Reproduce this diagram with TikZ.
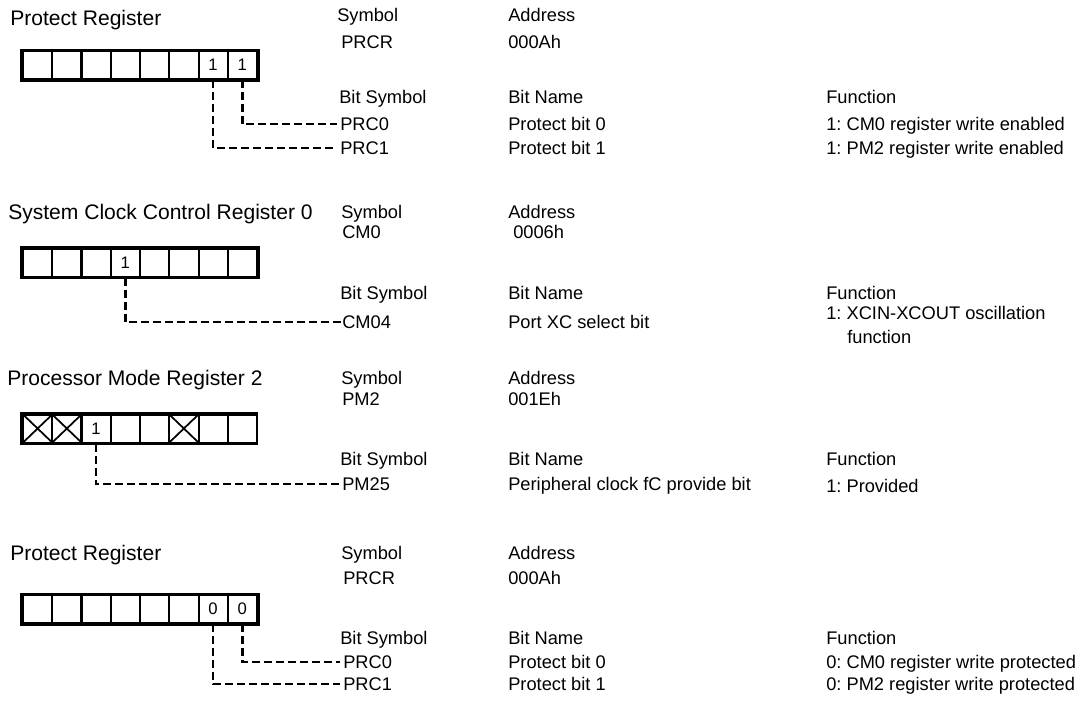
\documentclass[tikz,border=0pt]{standalone}
\usepackage{fontspec}
\setmainfont{Liberation Sans}
\frenchspacing

\begin{document}
\begin{tikzpicture}[x=0.75pt, y=-0.75pt,
  txt/.style={anchor=base west, inner sep=0pt, font=\fontsize{13.7}{16}\selectfont},
  title/.style={txt, font=\fontsize{15.8}{19}\selectfont},
  bit/.style={draw, line width=1.5pt, minimum width=21.94pt, minimum height=21pt, inner sep=0pt, font=\fontsize{12.5}{14}\selectfont},
  frame/.style={line width=2.25pt},
  cross/.style={line width=1.3pt},
  lead/.style={line width=1.7pt, dash pattern=on 6pt off 3pt, shorten >=2.5pt}]
\useasboundingbox (0,0) rectangle (1081,704);

\node[title] (t1) at (10,25.5) {Protect Register};
\node[txt] (s1) at (337,21.5) {Symbol};
\node[txt] (s1v) at (341,48.5) {PRCR};
\node[txt] (a1) at (508,21.5) {Address};
\node[txt] (a1v) at (508,48.5) {000Ah};
\foreach \v [count=\i] in {{},{},{},{},{},{},1,1}
  \node[bit] (r1c\i) at ({23+29.25*(\i-0.5)},65) {\v};
\draw[frame] (r1c1.north west) rectangle (r1c8.south east);
\node[txt] (bs1) at (339,103.5) {Bit Symbol};
\node[txt] (bn1) at (508,103.5) {Bit Name};
\node[txt] (fn1) at (826,103.5) {Function};
\node[txt] (b1a) at (340,130.5) {PRC0};
\node[txt] (n1a) at (508,130.5) {Protect bit 0};
\node[txt] (f1a) at (826,130.5) {1: CM0 register write enabled};
\node[txt] (b1b) at (340,154.5) {PRC1};
\node[txt] (n1b) at (508,154.5) {Protect bit 1};
\node[txt] (f1b) at (826,154.5) {1: PM2 register write enabled};
\draw[lead] (r1c8.south) |- (b1a.west);
\draw[lead] (r1c7.south) |- (b1b.west);

\node[title] (t2) at (8,219.5) {System Clock Control Register 0};
\node[txt] (s2) at (341,218.5) {Symbol};
\node[txt] (s2v) at (342,238.5) {CM0};
\node[txt] (a2) at (508,218.5) {Address};
\node[txt] (a2v) at (513,238.5) {0006h};
\foreach \v [count=\i] in {{},{},{},1,{},{},{},{}}
  \node[bit] (r2c\i) at ({23+29.25*(\i-0.5)},262.5) {\v};
\draw[frame] (r2c1.north west) rectangle (r2c8.south east);
\node[txt] (bs2) at (340,299.5) {Bit Symbol};
\node[txt] (bn2) at (508,299.5) {Bit Name};
\node[txt] (fn2) at (826,299.5) {Function};
\node[txt] (b2a) at (342,328.5) {CM04};
\node[txt] (n2a) at (508,328.5) {Port XC select bit};
\node[txt] (f2a) at (826,319.5) {1: XCIN-XCOUT oscillation};
\node[txt] (f2b) at (847,343.5) {function};
\draw[lead, shorten >=0pt] (r2c4.south) |- (b2a.west);

\node[title] (t3) at (7,385.5) {Processor Mode Register 2};
\node[txt] (s3) at (341,384.5) {Symbol};
\node[txt] (s3v) at (342,405.5) {PM2};
\node[txt] (a3) at (508,384.5) {Address};
\node[txt] (a3v) at (508,405.5) {001Eh};
\foreach \v [count=\i] in {{},{},1,{},{},{},{},{}}
  \node[bit] (r3c\i) at ({23+29.25*(\i-0.5)},428.5) {\v};
\draw[frame] (r3c8.north east) -- (r3c1.north west) -- (r3c1.south west) -- (r3c8.south east);
\foreach \i in {1,2,6}
  \draw[cross] (r3c\i.north west) -- (r3c\i.south east) (r3c\i.south west) -- (r3c\i.north east);
\node[txt] (bs3) at (340,465.5) {Bit Symbol};
\node[txt] (bn3) at (508,465.5) {Bit Name};
\node[txt] (fn3) at (826,465.5) {Function};
\node[txt] (b3a) at (342,490.5) {PM25};
\node[txt] (n3a) at (508,490.5) {Peripheral clock fC provide bit};
\node[txt] (f3a) at (826,492.5) {1: Provided};
\draw[lead] (r3c3.south) |- (b3a.west);

\node[title] (t4) at (10,560.5) {Protect Register};
\node[txt] (s4) at (341,559.5) {Symbol};
\node[txt] (s4v) at (343,584.5) {PRCR};
\node[txt] (a4) at (508,559.5) {Address};
\node[txt] (a4v) at (508,584.5) {000Ah};
\foreach \v [count=\i] in {{},{},{},{},{},{},0,0}
  \node[bit] (r4c\i) at ({23+29.25*(\i-0.5)},609) {\v};
\draw[frame] (r4c1.north west) rectangle (r4c8.south east);
\node[txt] (bs4) at (340,644.5) {Bit Symbol};
\node[txt] (bn4) at (508,644.5) {Bit Name};
\node[txt] (fn4) at (826,644.5) {Function};
\node[txt] (b4a) at (343,668.5) {PRC0};
\node[txt] (n4a) at (508,668.5) {Protect bit 0};
\node[txt] (f4a) at (826,668.5) {0: CM0 register write protected};
\node[txt] (b4b) at (343,690.5) {PRC1};
\node[txt] (n4b) at (508,690.5) {Protect bit 1};
\node[txt] (f4b) at (826,690.5) {0: PM2 register write protected};
\draw[lead] (r4c8.south) |- (b4a.west);
\draw[lead] (r4c7.south) |- (b4b.west);
\end{tikzpicture}
\end{document}
